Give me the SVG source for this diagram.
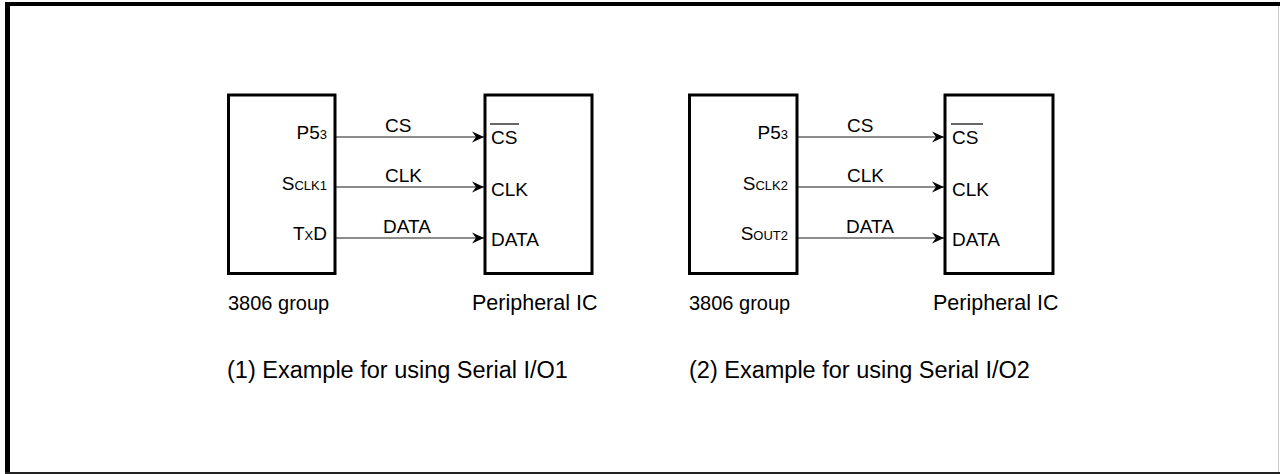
<svg xmlns="http://www.w3.org/2000/svg" width="1280" height="474" viewBox="0 0 1280 474">
<defs>
<style>
text{font-family:"Liberation Sans",Arial,sans-serif;fill:#000}
.box{fill:#fff;stroke:#000;stroke-width:3}
.sig{stroke:#666;stroke-width:1.5;fill:none}
.lbl{font-size:19px}
.pin{font-size:19px;text-anchor:end}
.sm{font-size:13px}
.cap{font-size:20px}
.cap2{font-size:21.5px}
.ttl{font-size:23.5px}
.ovl{stroke:#000;stroke-width:1.2}
</style>
<marker id="arr" markerWidth="14" markerHeight="12" refX="12" refY="6" orient="auto" markerUnits="userSpaceOnUse">
<path d="M0,0.5 L12,6 L0,11.5 L4,6 Z" fill="#000"/>
</marker>
</defs>
<rect width="1280" height="474" fill="#fff"/>
<g id="frame">
<line x1="5" y1="4" x2="1280" y2="4" stroke="#000" stroke-width="4"/>
<line x1="7.5" y1="2" x2="7.5" y2="474" stroke="#000" stroke-width="5"/>
<line x1="5" y1="473" x2="1280" y2="473" stroke="#222" stroke-width="2"/>
<line x1="1278.5" y1="6" x2="1278.5" y2="472" stroke="#ccc" stroke-width="1"/>
</g>
<g id="connectors">
<line class="sig" x1="335" y1="137" x2="484" y2="137" marker-end="url(#arr)"/>
<line class="sig" x1="335" y1="187" x2="484" y2="187" marker-end="url(#arr)"/>
<line class="sig" x1="335" y1="238" x2="484" y2="238" marker-end="url(#arr)"/>
<line class="sig" x1="797" y1="137" x2="944" y2="137" marker-end="url(#arr)"/>
<line class="sig" x1="797" y1="187" x2="944" y2="187" marker-end="url(#arr)"/>
<line class="sig" x1="797" y1="238" x2="944" y2="238" marker-end="url(#arr)"/>
<text class="lbl" x="385" y="132">CS</text>
<text class="lbl" x="385" y="182">CLK</text>
<text class="lbl" x="383" y="233">DATA</text>
<text class="lbl" x="847" y="132">CS</text>
<text class="lbl" x="847" y="182">CLK</text>
<text class="lbl" x="846" y="233">DATA</text>
</g>
<g id="mcu1">
<rect class="box" x="228.5" y="95" width="106.5" height="178.5"/>
<text class="pin" x="327" y="139">P5<tspan class="sm">3</tspan></text>
<text class="pin" x="327" y="190">S<tspan class="sm">CLK1</tspan></text>
<text class="pin" x="327" y="240">T<tspan class="sm">X</tspan>D</text>
<text class="cap" x="228" y="310">3806 group</text>
</g>
<g id="periph1">
<rect class="box" x="485" y="95" width="107" height="178.5"/>
<text class="lbl" x="491" y="144">CS</text>
<line class="ovl" x1="490" y1="124" x2="519" y2="124"/>
<text class="lbl" x="491" y="196">CLK</text>
<text class="lbl" x="491" y="246">DATA</text>
<text class="cap2" x="472" y="310">Peripheral IC</text>
</g>
<g id="mcu2">
<rect class="box" x="689.5" y="95" width="107.5" height="178.5"/>
<text class="pin" x="788" y="139">P5<tspan class="sm">3</tspan></text>
<text class="pin" x="788" y="190">S<tspan class="sm">CLK2</tspan></text>
<text class="pin" x="788" y="240">S<tspan class="sm">OUT2</tspan></text>
<text class="cap" x="689" y="310">3806 group</text>
</g>
<g id="periph2">
<rect class="box" x="945" y="95" width="108" height="178.5"/>
<text class="lbl" x="952" y="144">CS</text>
<line class="ovl" x1="951" y1="124" x2="983" y2="124"/>
<text class="lbl" x="952" y="196">CLK</text>
<text class="lbl" x="952" y="246">DATA</text>
<text class="cap2" x="933" y="310">Peripheral IC</text>
</g>
<g id="captions">
<text class="ttl" x="227" y="378">(1) Example for using Serial I/O1</text>
<text class="ttl" x="689" y="378">(2) Example for using Serial I/O2</text>
</g>
</svg>
